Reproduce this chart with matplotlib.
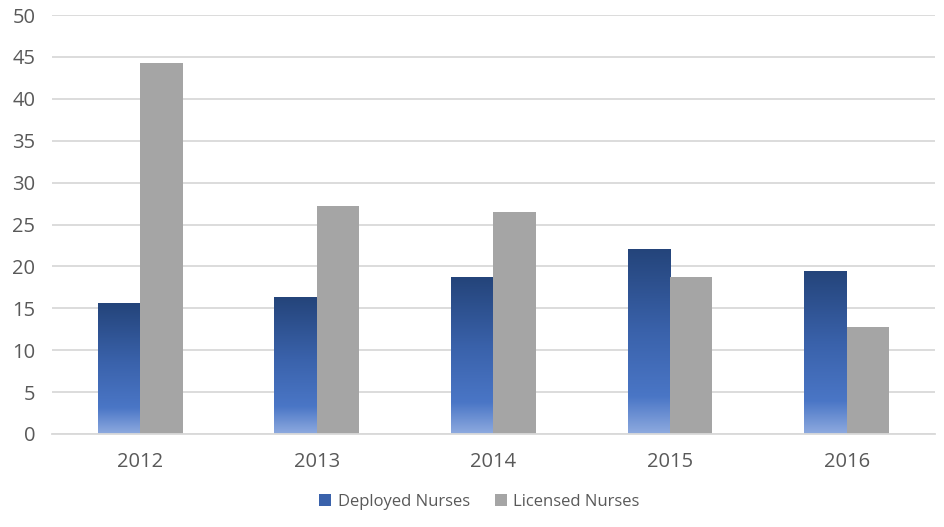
import numpy as np
import matplotlib.pyplot as plt
from matplotlib.colors import LinearSegmentedColormap
from matplotlib.patches import Rectangle

years = ["2012", "2013", "2014", "2015", "2016"]
deployed = [15.6, 16.3, 18.7, 22.1, 19.5]
licensed = [44.3, 27.2, 26.5, 18.7, 12.8]

plt.rcParams['font.family'] = ['Open Sans', 'DejaVu Sans']

fig = plt.figure(figsize=(9.44, 5.27), dpi=100)
ax = fig.add_axes([0.055, 0.1765, 0.9355, 0.795])

x = np.arange(len(years))
w = 0.24

# gradient for the blue bars: light at bottom, navy at top
cmap = LinearSegmentedColormap.from_list(
    "blue", [(0, "#8eaadf"), (0.2, "#4a76c6"), (0.55, "#3a62ab"), (1, "#24447a")])
grad = np.linspace(0, 1, 256).reshape(-1, 1)

bars = ax.bar(x - w / 2, deployed, w, color="none", label="Deployed Nurses")
for b in bars:
    im = ax.imshow(grad, cmap=cmap, origin="lower", aspect="auto",
                   extent=[b.get_x(), b.get_x() + b.get_width(), 0, b.get_height()],
                   zorder=2)
    im.set_clip_path(b)
ax.bar(x + w / 2, licensed, w, color="#a5a5a5", label="Licensed Nurses", zorder=2)

ax.set_xlim(-0.5, len(years) - 0.5)
ax.set_ylim(0, 50)
ax.set_yticks(range(0, 51, 5))
ax.set_xticks(x)
ax.set_xticklabels(years)
ax.grid(axis="y", color="#d9d9d9", linewidth=1.3, zorder=0)
ax.set_axisbelow(True)
for s in ["top", "right", "left"]:
    ax.spines[s].set_visible(False)
ax.spines["bottom"].set_color("#d9d9d9")
ax.spines["bottom"].set_linewidth(1.3)
ax.tick_params(axis="both", length=0, labelsize=14.5, colors="#595959")
ax.tick_params(axis="x", pad=13)
ax.tick_params(axis="y", pad=12)

# legend handles
h1 = Rectangle((0, 0), 1, 1, facecolor="#3a62ab")
h2 = Rectangle((0, 0), 1, 1, facecolor="#a5a5a5")
leg = fig.legend([h1, h2], ["Deployed Nurses", "Licensed Nurses"],
                 loc="center", bbox_to_anchor=(0.508, 0.048), ncol=2,
                 frameon=False, fontsize=12, handlelength=0.7,
                 handleheight=0.7, columnspacing=1.5, handletextpad=0.4)
for t in leg.get_texts():
    t.set_color("#595959")

fig.savefig("out.png", dpi=100)
